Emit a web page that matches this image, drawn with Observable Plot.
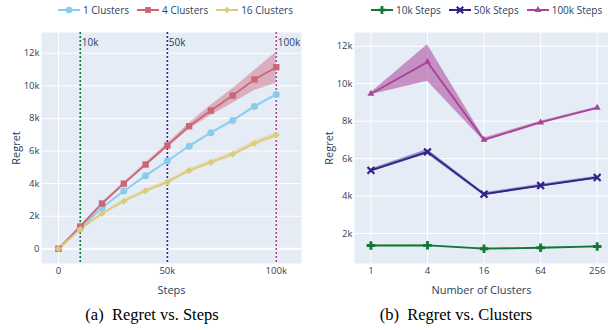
<!DOCTYPE html>
<html><head><meta charset="utf-8">
<script src="https://cdn.jsdelivr.net/npm/d3@7"></script>
<script src="https://cdn.jsdelivr.net/npm/@observablehq/plot@0.6"></script>
<style>
body{margin:0;background:#fff;font-family:"Open Sans",sans-serif;}
#wrap{position:relative;width:608px;height:330px;overflow:hidden;background:#fff}
.panel{position:absolute;top:0}
.legend{position:absolute;top:2px;display:flex;align-items:center;font-size:10px;color:#2a3f5f;white-space:nowrap;height:15px}
.legend .item{display:flex;align-items:center;margin-right:8px}
.legend svg{margin-right:3px;overflow:visible}
.cap{position:absolute;top:305px;width:304px;text-align:center;font-family:"Liberation Serif","DejaVu Serif",serif;font-size:16.5px;color:#000;white-space:pre}
</style></head>
<body><div id="wrap"></div>
<script>
// ---- Panel (a): Regret vs. Steps ----
const steps = [0,10000,20000,30000,40000,50000,60000,70000,80000,90000,100000];
const c1   = [0,1250,2520,3540,4480,5380,6300,7120,7870,8730,9470];
const c1Lo = [0,1220,2480,3500,4430,5330,6240,7060,7810,8660,9400];
const c1Hi = [0,1280,2560,3580,4530,5430,6360,7180,7930,8800,9540];
const c4   = [0,1370,2780,4000,5170,6340,7520,8480,9400,10390,11140];
const c4Lo = [0,1330,2720,3930,5080,6220,7330,8180,8930,9710,10160];
const c4Hi = [0,1410,2840,4070,5260,6460,7700,8800,9820,10940,12060];
const c16   = [0,1200,2170,2920,3560,4090,4800,5310,5800,6480,6990];
const c16Lo = [0,1140,2090,2820,3460,3980,4680,5180,5660,6330,6830];
const c16Hi = [0,1260,2250,3020,3660,4200,4920,5440,5940,6630,7150];
const stepMarks = [10000,50000,100000];
const stepMarkLabels = ["10k","50k","100k"];
const leftTicksX = [0,50000,100000];
const leftTicksY = [0,2000,4000,6000,8000,10000,12000];

// ---- Panel (b): Regret vs. Clusters ----
const clusters = [1,4,16,64,256];
const s10   = [1360,1370,1190,1240,1310];
const s10Lo = [1340,1350,1170,1220,1290];
const s10Hi = [1380,1390,1210,1260,1330];
const s50   = [5370,6360,4100,4560,4990];
const s50Lo = [5290,6230,4020,4490,4920];
const s50Hi = [5450,6480,4180,4630,5060];
const s100   = [9460,11150,7000,7930,8710];
const s100Lo = [9410,10130,6920,7870,8660];
const s100Hi = [9510,12080,7100,7990,8760];
const rightTicksY = [2000,4000,6000,8000,10000,12000];

const COL = {c1:"#88CCEE", c4:"#CC6677", c16:"#DDCC77", s10:"#117733", s50:"#332288", s100:"#AA4499"};
const TXT = "#2a3f5f";
const BG = "#E5ECF6";
const fmtK = d3.format("~s");

function rows(xs, ys, lo, hi){ return xs.map((x,i)=>({x, y:ys[i], lo:lo[i], hi:hi[i]})); }
const dA1 = rows(steps,c1,c1Lo,c1Hi), dA4 = rows(steps,c4,c4Lo,c4Hi), dA16 = rows(steps,c16,c16Lo,c16Hi);
const dB10 = rows(clusters,s10,s10Lo,s10Hi), dB50 = rows(clusters,s50,s50Lo,s50Hi), dB100 = rows(clusters,s100,s100Lo,s100Hi);
const markRows = stepMarks.map((x,i)=>({x, t:stepMarkLabels[i], c:[COL.s10,COL.s50,COL.s100][i]}));

const baseStyle = {fontFamily:"'Open Sans', sans-serif", fontSize:"9.5px", color:TXT, background:"transparent", overflow:"visible"};

const left = Plot.plot({
  width:304, height:300, marginLeft:41, marginRight:3, marginTop:32, marginBottom:37,
  style: baseStyle,
  x:{domain:[-7800,111600], ticks:leftTicksX, tickFormat:fmtK, tickSize:0, tickPadding:4,
     label:"Steps", labelAnchor:"center", labelArrow:"none", labelOffset:30},
  y:{domain:[-900,13270], ticks:leftTicksY, tickFormat:fmtK, tickSize:0, tickPadding:2,
     label:"Regret", labelAnchor:"center", labelArrow:"none", labelOffset:29},
  marks:[
    Plot.frame({fill:BG, stroke:null}),
    Plot.ruleX(leftTicksX, {stroke:"white", strokeWidth:1}),
    Plot.ruleY(leftTicksY, {stroke:"white", strokeWidth:1}),
    Plot.ruleY([0], {stroke:"white", strokeWidth:2}),
    Plot.areaY(dA1, {x:"x", y1:"lo", y2:"hi", fill:COL.c1, fillOpacity:0.4}),
    Plot.areaY(dA4, {x:"x", y1:"lo", y2:"hi", fill:COL.c4, fillOpacity:0.45}),
    Plot.areaY(dA16, {x:"x", y1:"lo", y2:"hi", fill:COL.c16, fillOpacity:0.45}),
    Plot.ruleX(markRows, {x:"x", stroke:"c", strokeWidth:1.6, strokeDasharray:"2,2"}),
    Plot.line(dA1, {x:"x", y:"y", stroke:COL.c1, strokeWidth:1.8}),
    Plot.line(dA4, {x:"x", y:"y", stroke:COL.c4, strokeWidth:1.8}),
    Plot.line(dA16, {x:"x", y:"y", stroke:COL.c16, strokeWidth:1.8}),
    Plot.dot(dA1, {x:"x", y:"y", symbol:"circle", fill:COL.c1, r:3.5}),
    Plot.dot(dA4, {x:"x", y:"y", symbol:"square", fill:COL.c4, r:3.6}),
    Plot.dot(dA16, {x:"x", y:"y", symbol:"diamond2", fill:COL.c16, r:3.2}),
    Plot.text(markRows, {x:"x", text:"t", frameAnchor:"top", textAnchor:"start", dx:1.5, dy:6, fill:TXT, fontSize:10})
  ]
});

const right = Plot.plot({
  width:304, height:300, marginLeft:50, marginRight:0, marginTop:32, marginBottom:37,
  style: baseStyle,
  x:{type:"log", base:2, domain:[Math.pow(2,-0.58), Math.pow(2,8.4)], ticks:clusters, tickFormat:d=>String(d), tickSize:0, tickPadding:4,
     label:"Number of Clusters", labelAnchor:"center", labelArrow:"none", labelOffset:30},
  y:{domain:[400,12730], ticks:rightTicksY, tickFormat:fmtK, tickSize:0, tickPadding:2,
     label:"Regret", labelAnchor:"center", labelArrow:"none", labelOffset:29},
  marks:[
    Plot.frame({fill:BG, stroke:null}),
    Plot.ruleX(clusters, {stroke:"white", strokeWidth:1}),
    Plot.ruleY(rightTicksY, {stroke:"white", strokeWidth:1}),
    Plot.areaY(dB10, {x:"x", y1:"lo", y2:"hi", fill:COL.s10, fillOpacity:0.4}),
    Plot.areaY(dB50, {x:"x", y1:"lo", y2:"hi", fill:COL.s50, fillOpacity:0.45}),
    Plot.areaY(dB100, {x:"x", y1:"lo", y2:"hi", fill:COL.s100, fillOpacity:0.55}),
    Plot.line(dB10, {x:"x", y:"y", stroke:COL.s10, strokeWidth:1.8}),
    Plot.line(dB50, {x:"x", y:"y", stroke:COL.s50, strokeWidth:1.8}),
    Plot.line(dB100, {x:"x", y:"y", stroke:COL.s100, strokeWidth:1.8}),
    Plot.dot(dB10, {x:"x", y:"y", symbol:"cross", fill:COL.s10, r:3.6}),
    Plot.dot(dB50, {x:"x", y:"y", symbol:"times", stroke:COL.s50, strokeWidth:2.2, r:3.2}),
    Plot.dot(dB100, {x:"x", y:"y", symbol:"triangle", fill:COL.s100, r:2.6})
  ]
});

// Axis title fonts slightly larger
for (const svg of [left, right]) {
  svg.querySelectorAll('[aria-label$="-axis label"] text, [aria-label$="axis label"] text').forEach(t=>t.setAttribute("font-size","11"));
}

const wrap = document.getElementById("wrap");
const pl = document.createElement("div"); pl.className="panel"; pl.style.left="0px"; pl.appendChild(left); wrap.appendChild(pl);
const pr = document.createElement("div"); pr.className="panel"; pr.style.left="304px"; pr.appendChild(right); wrap.appendChild(pr);

function legend(items, x){
  const d = document.createElement("div"); d.className="legend"; d.style.left=x+"px";
  for (const it of items){
    const item = document.createElement("div"); item.className="item";
    const s = d3.create("svg").attr("width",22).attr("height",10);
    s.append("line").attr("x1",0).attr("x2",22).attr("y1",5).attr("y2",5).attr("stroke",it.c).attr("stroke-width",2);
    const sym = d3.symbol().type(it.sym).size(it.size)();
    const p = s.append("path").attr("d",sym).attr("transform","translate(11,5)");
    if (it.stroked) p.attr("fill","none").attr("stroke",it.c).attr("stroke-width",2.2); else p.attr("fill",it.c);
    item.appendChild(s.node());
    const sp = document.createElement("span"); sp.textContent = it.label; item.appendChild(sp);
    d.appendChild(item);
  }
  wrap.appendChild(d);
}
legend([
  {label:"1 Clusters", c:COL.c1, sym:d3.symbolCircle, size:34},
  {label:"4 Clusters", c:COL.c4, sym:d3.symbolSquare, size:34},
  {label:"16 Clusters", c:COL.c16, sym:d3.symbolDiamond2, size:28}
], 58);
legend([
  {label:"10k Steps", c:COL.s10, sym:d3.symbolCross, size:36},
  {label:"50k Steps", c:COL.s50, sym:d3.symbolTimes, size:28, stroked:true},
  {label:"100k Steps", c:COL.s100, sym:d3.symbolTriangle, size:20}
], 371);

const capA = document.createElement("div"); capA.className="cap"; capA.style.left="0px"; capA.textContent="(a)  Regret vs. Steps"; wrap.appendChild(capA);
const capB = document.createElement("div"); capB.className="cap"; capB.style.left="304px"; capB.textContent="(b)  Regret vs. Clusters"; wrap.appendChild(capB);
</script></body></html>
